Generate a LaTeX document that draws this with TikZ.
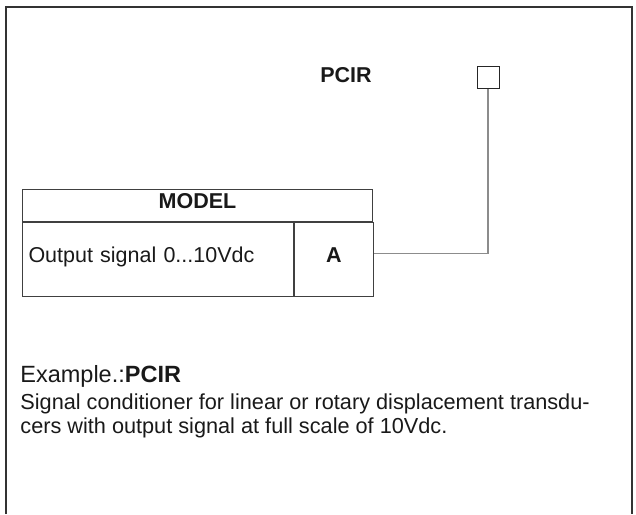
\documentclass[tikz,border=0pt]{standalone}
\usepackage{fontspec}
\setmainfont{Liberation Sans}
\usetikzlibrary{positioning}

\begin{document}
\begin{tikzpicture}[x=0.5pt, y=-0.5pt,
        every node/.style={font=\fontsize{10.75pt}{12pt}\selectfont, text=black!90},
        modelcell/.style={draw=black!75, line width=0.5pt, inner xsep=3pt, inner ysep=0pt,
                          text height=8pt, text depth=5pt},
        socket/.style={draw=black!85, line width=0.5pt, minimum size=11pt, inner sep=0pt},
        wire/.style={draw=black!45, line width=0.75pt},
        sheet/.style={draw=black!80, line width=0.75pt}]

    \useasboundingbox (0,0) rectangle (636,514);
    \draw[sheet] (6,514) |- (632,7) -- (632,514);

    \node (title) at (346,75) {\bfseries PCIR};
    \node[socket] (pcir) at (488,77) {};

    \node[modelcell, anchor=north west, minimum width=175pt, minimum height=16pt] (model) at (22,189) {\bfseries MODEL};
    \node[modelcell, below right=0pt of model.south west, minimum width=135.5pt, minimum height=37pt,
          text width=129.5pt, align=left] (output) {Output signal 0...10Vdc};
    \node[modelcell, right=0pt of output, minimum width=39.5pt, minimum height=37pt] (code) {\bfseries A};

    \draw[wire] ([yshift=3pt]code.east) -| (pcir.south);

    \node[anchor=base west, inner sep=0pt, font=\fontsize{11.75pt}{13pt}\selectfont] (example) at (20,382) {Example.:\textbf{PCIR}};
    % last line sits on the base anchor
    \node[anchor=base west, inner sep=0pt, align=left, font=\fontsize{10.85pt}{12pt}\selectfont] (descr) at (20,433)
        {Signal conditioner for linear or rotary displacement transdu-\\cers with output signal at full scale of 10Vdc.};
\end{tikzpicture}
\end{document}
